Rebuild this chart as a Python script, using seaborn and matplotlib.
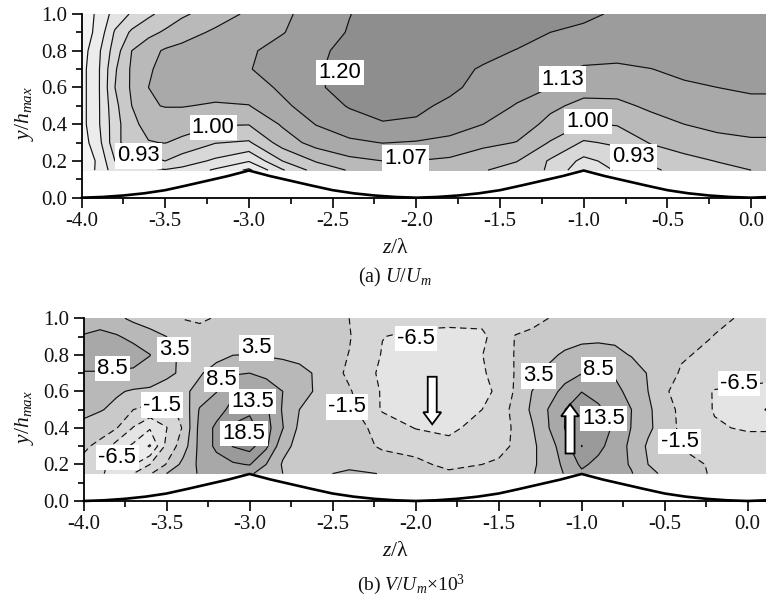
import numpy as np
import matplotlib
matplotlib.use("Agg")
import matplotlib.pyplot as plt
from matplotlib.ticker import MultipleLocator
import seaborn as sns

# grid heights shared by both panels
y_levels = [0.15, 0.2, 0.3, 0.4, 0.5, 0.6, 0.7, 0.8, 0.9, 1.0]

# panel (a) U/Um, one row per height
x_a = [-4.0, -3.9, -3.8, -3.7, -3.6, -3.5, -3.4, -3.2, -3.0, -2.8, -2.6, -2.4, -2.2,
       -2.0, -1.8, -1.6, -1.4, -1.2, -1.0, -0.8, -0.6, -0.4, -0.2, 0.0, 0.1]
u_015 = [.67, .75, .835, .845, .85, .862, .85, .79, .72, .86, .96, 1.005, 1.035, 1.04, 1.03, 1.005, .97, .925, .815, .875, .92, .96, .985, 1.0, 1.01]
u_02 = [.68, .745, .867, .885, .91, .933, .90, .855, .805, .933, 1.005, 1.05, 1.067, 1.066, 1.055, 1.03, 1.003, .925, .85, .89, .945, .985, 1.002, 1.02, 1.02]
u_03 = [.70, .775, .91, .975, .997, 1.002, .985, .936, .925, 1.03, 1.093, 1.121, 1.135, 1.128, 1.117, 1.083, 1.065, .995, .925, .944, 1.005, 1.023, 1.046, 1.056, 1.056]
u_04 = [.71, .79, .905, .985, 1.02, 1.03, 1.03, 1.005, 1.003, 1.075, 1.135, 1.17, 1.195, 1.19, 1.16, 1.133, 1.10, 1.05, .997, 1.005, 1.04, 1.067, 1.085, 1.095, 1.095]
u_05 = [.71, .79, .915, 1.0, 1.06, 1.07, 1.07, 1.06, 1.065, 1.12, 1.165, 1.205, 1.225, 1.215, 1.185, 1.155, 1.13, 1.08, 1.05, 1.05, 1.08, 1.10, 1.115, 1.12, 1.12]
u_06 = [.71, .79, .933, 1.01, 1.067, 1.085, 1.09, 1.095, 1.10, 1.145, 1.19, 1.225, 1.24, 1.235, 1.215, 1.175, 1.15, 1.133, 1.09, 1.095, 1.11, 1.125, 1.133, 1.14, 1.14]
u_07 = [.71, .79, .925, 1.01, 1.062, 1.08, 1.095, 1.11, 1.13, 1.16, 1.19, 1.23, 1.24, 1.235, 1.215, 1.195, 1.17, 1.15, 1.125, 1.12, 1.132, 1.145, 1.155, 1.16, 1.16]
u_08 = [.70, .785, .90, 1.0, 1.045, 1.075, 1.09, 1.105, 1.125, 1.155, 1.185, 1.22, 1.235, 1.24, 1.235, 1.215, 1.198, 1.18, 1.165, 1.16, 1.16, 1.16, 1.165, 1.165, 1.165]
u_09 = [.69, .755, .875, .945, .98, 1.01, 1.035, 1.08, 1.11, 1.13, 1.165, 1.205, 1.24, 1.25, 1.25, 1.235, 1.22, 1.2, 1.185, 1.175, 1.17, 1.17, 1.17, 1.17, 1.17]
u_10 = [.68, .75, .825, .875, .92, .955, .99, 1.03, 1.08, 1.12, 1.16, 1.198, 1.23, 1.25, 1.26, 1.26, 1.25, 1.24, 1.215, 1.19, 1.18, 1.175, 1.175, 1.175, 1.175]

# panel (b) V/Um x 10^3
x_b = [-4.0, -3.9, -3.8, -3.7, -3.6, -3.5, -3.4, -3.3, -3.2, -3.1, -3.0, -2.9, -2.8, -2.7, -2.6, -2.4, -2.2, -2.0,
       -1.8, -1.6, -1.5, -1.4, -1.3, -1.2, -1.1, -1.0, -0.9, -0.8, -0.7, -0.6, -0.5, -0.4, -0.2, 0.0, 0.12]
v_015 = [-3.5, -6, -8, -6.5, -2, 3.5, 6, 9, 10.5, 10, 9, 7, 3.5, 3, 3, 4, 3.4, .5, -.8, -.5, .2, 1, 3, 6, 8.8, 12.5, 11, 10, 8.8, 5, 2.5, 1, -2.2, -2.5, -2.5]
v_02 = [-3, -5.5, -8, -11.8, -6.5, -1.2, 5, 9.5, 11.5, 12.8, 13.8, 8.5, 3, 2.5, 2.5, 2.8, 1, -.5, -2.5, -1.5, -1, 0, 2.5, 6, 9.5, 14.5, 12, 10.5, 8, 3.5, 2, .5, -2.3, -2.5, -2.5]
v_03 = [-.5, -3, -8.5, -12.5, -17, -5, 1, 10, 14.5, 18.7, 20.5, 14.5, 5, 2, 1.5, 1, -2.2, -3, -4.5, -4, -2.5, -1, 2.5, 6, 11.5, 18.6, 15, 11, 7.5, 2.7, .5, -1.8, -3.5, -4.5, -4.5]
v_04 = [2.5, 1, -1.3, -6.8, -11, -6.7, -1, 10, 14.5, 19.5, 20.5, 15.5, 8.7, 2.5, 2, 1, -3.5, -6.7, -8, -4, -3, -1, 3, 8.3, 13.7, 16.5, 15, 13, 8.3, 4.5, 1, -2.5, -6, -7, -7]
v_05 = [4.5, 3.8, 2.5, -1.5, -3, -3.2, 0, 9, 11.5, 15, 17.5, 14.5, 8, 3.5, 1.5, 0, -7, -11, -11, -6.5, -3.5, -.3, 4.3, 8.7, 13.5, 16, 14.5, 11, 8.5, 4.5, .3, -2.5, -6.8, -8.5, -12]
v_06 = [5.5, 5, 4, 3, 2.5, 1.5, 2.5, 5, 8.3, 12.5, 12, 10.5, 8.5, 5.5, 3, -1, -7, -10.5, -10.5, -8, -5.5, -.9, 3.5, 6.5, 10, 13.4, 11.5, 9.8, 7, 3.5, -1, -3, -6.8, -7.5, -8]
v_07 = [8, 8, 7.5, 7.5, 7, 4.5, 2.7, 3, 5.5, 8, 8.5, 7.6, 6.5, 5, 3, -2.5, -7.5, -10, -10, -7, -5, -1.2, 1.5, 4.5, 6.5, 8.3, 8.4, 8, 6, 3.2, .5, -2, -3.8, -4.5, -5]
v_08 = [13, 13, 13, 11, 8.6, 5, 2.5, 1.5, 2, 3.4, 3.6, 3, 2.5, 2, 1, -1.6, -6.8, -9, -9, -6.6, -4.5, -1.2, .3, 2.5, 4.2, 5.2, 5.2, 4.7, 3.2, 2.3, 1, -1, -2.6, -3.8, -4]
v_09 = [9, 10, 9, 7, 5, 3.5, 2, 1, 1, 1.5, 2, 2, 2, 1.5, 1, -1.2, -6.4, -7.5, -7.5, -7.2, -5, -1.3, -.5, .3, 1.5, 2.3, 2.6, 2.4, 2, 1.5, .8, .2, -1.6, -3.5, -4]
v_10 = [5, 6, 4.5, 2.5, 1.5, 0, -1.7, -2.5, -1, -.5, 0, .5, 1, 1, .5, -1.5, -3.5, -5, -5.5, -5.5, -4.5, -3.5, -2.8, -1.5, 0, .5, 1, 1, 1, .5, 0, -.2, -.8, -2, -2.5]

# wavy wall profile
wall_x = [-4.0, -3.875, -3.75, -3.625, -3.5, -3.375, -3.25, -3.125, -3.0, -2.875, -2.75, -2.625, -2.5, -2.375, -2.25, -2.125,
          -2.0, -1.875, -1.75, -1.625, -1.5, -1.375, -1.25, -1.125, -1.0, -0.875, -0.75, -0.625, -0.5, -0.375, -0.25, -0.125, 0.0, 0.11]
wall_y = [0.0, .004, .012, .024, .041, .066, .092, .118, .148, .118, .092, .066, .041, .024, .012, .004,
          0.0, .004, .012, .024, .041, .066, .092, .118, .148, .118, .092, .066, .041, .024, .012, .004, 0.0, .004]

# contour levels, greys and labels
u_levels = [.733, .80, .867, .933, 1.0, 1.067, 1.133, 1.2]
u_greys = ["#f3f3f3", "#ececec", "#e3e3e3", "#d8d8d8", "#c9c9c9", "#b9b9b9", "#a9a9a9", "#9c9c9c", "#8e8e8e"]
v_levels = [-16.5, -11.5, -6.5, -1.5, 3.5, 8.5, 13.5, 18.5]
v_greys = ["#f0f0f0", "#ececec", "#e4e4e4", "#d6d6d6", "#c9c9c9", "#b8b8b8", "#a8a8a8", "#9a9a9a", "#8e8e8e"]

u_labels = ["1.20", "1.13", "1.00", "0.93", "1.07", "1.00", "0.93"]
u_label_x = [-2.456, -1.125, -3.214, -3.662, -2.062, -0.974, -0.70]
u_label_y = [.68, .646, .381, .228, .216, .414, .222]
v_labels = ["8.5", "3.5", "3.5", "8.5", "13.5", "18.5", "-1.5", "-6.5", "-1.5", "-6.5", "3.5", "8.5", "13.5", "-1.5", "-6.5"]
v_label_x = [-3.824, -3.455, -2.957, -3.168, -2.98, -3.033, -3.529, -3.796, -2.411, -1.997, -1.258, -0.897, -0.869, -0.411, -0.053]
v_label_y = [.725, .829, .838, .665, .546, .37, .525, .239, .515, .889, .685, .721, .452, .324, .643]

sns.set_theme(style="ticks")
plt.rcParams["font.family"] = ["Liberation Serif", "DejaVu Sans"]
plt.rcParams["mathtext.fontset"] = "custom"
plt.rcParams["mathtext.rm"] = "Liberation Serif"
plt.rcParams["mathtext.it"] = "Liberation Serif:italic"

W, H = 766, 601
fig = plt.figure(figsize=(W / 100, H / 100), dpi=100)
ax_a = fig.add_axes([81.5 / W, 1 - 197.7 / H, (W - 81.5) / W, 183.7 / H])
ax_b = fig.add_axes([83.5 / W, 1 - 501 / H, (W - 83.5) / W, 182.7 / H])


def draw_panel(ax, x, rows, levels, greys, labels, lx, ly, xmax):
    z = np.array(rows)
    ax.contourf(x, y_levels, z, levels=levels, colors=greys, extend="both")
    styles = [(0, (5.5, 3.5)) if lv < 0 else "-" for lv in levels]
    ax.contour(x, y_levels, z, levels=levels, colors="#111111", linewidths=0.85, linestyles=styles)
    sns.lineplot(x=wall_x, y=wall_y, ax=ax, color="black", linewidth=1.9, clip_on=False, zorder=4)
    for s, a, b in zip(labels, lx, ly):
        ax.text(a, b, s, family="Liberation Sans", fontsize=15.8, color="black", ha="center", va="center",
                bbox=dict(facecolor="white", edgecolor="none", pad=1.6), zorder=5)
    ax.set_xlim(-4.0, xmax)
    ax.set_ylim(0.0, 1.0)
    ax.xaxis.set_major_locator(MultipleLocator(0.5))
    ax.xaxis.set_minor_locator(MultipleLocator(0.25))
    ax.yaxis.set_major_locator(MultipleLocator(0.2))
    ax.yaxis.set_minor_locator(MultipleLocator(0.1))
    ax.xaxis.set_major_formatter(lambda v, p: f"{v:.1f}" if abs(v) > 1e-9 else "0.0")
    ax.tick_params(which="major", length=7, width=1.2, labelsize=15, color="black", labelcolor="#111111", pad=3)
    ax.tick_params(which="minor", length=4, width=1.2, color="black")
    ax.yaxis.set_major_formatter(lambda v, p: f"{v:.1f}")
    for side in ["top", "right"]:
        ax.spines[side].set_visible(False)
    for side in ["left", "bottom"]:
        ax.spines[side].set_linewidth(1.3)
        ax.spines[side].set_color("black")
    ax.patch.set_alpha(0)


draw_panel(ax_a, x_a, [u_015, u_02, u_03, u_04, u_05, u_06, u_07, u_08, u_09, u_10],
           u_levels, u_greys, u_labels, u_label_x, u_label_y, 0.089)
draw_panel(ax_b, x_b, [v_015, v_02, v_03, v_04, v_05, v_06, v_07, v_08, v_09, v_10],
           v_levels, v_greys, v_labels, v_label_x, v_label_y, 0.11)

# flow direction arrows
ax_b.arrow(-1.9, .68, 0, -.26, width=.054, head_width=.108, head_length=.066, length_includes_head=True,
           facecolor="white", edgecolor="black", linewidth=1.3, zorder=6)
ax_b.arrow(-1.07, .26, 0, .27, width=.054, head_width=.108, head_length=.066, length_includes_head=True,
           facecolor="white", edgecolor="black", linewidth=1.3, zorder=6)


def px_text(px, py, s, **kw):
    fig.text(px / W, 1 - py / H, s, ha="center", va="center", color="#111111", **kw)


px_text(25, 113, r"$y/h_{max}$", fontsize=15.5, rotation=90)
px_text(25, 417, r"$y/h_{max}$", fontsize=15.5, rotation=90)
px_text(395, 248, r"$z/$λ", fontsize=15.5)
px_text(395, 552, r"$z/$λ", fontsize=15.5)
px_text(395, 277, r"(a) $U/U_m$", fontsize=14.5)
px_text(411, 585, r"(b) $V/U_m$×10$^3$", fontsize=14)

fig.savefig("out.png", dpi=100)
